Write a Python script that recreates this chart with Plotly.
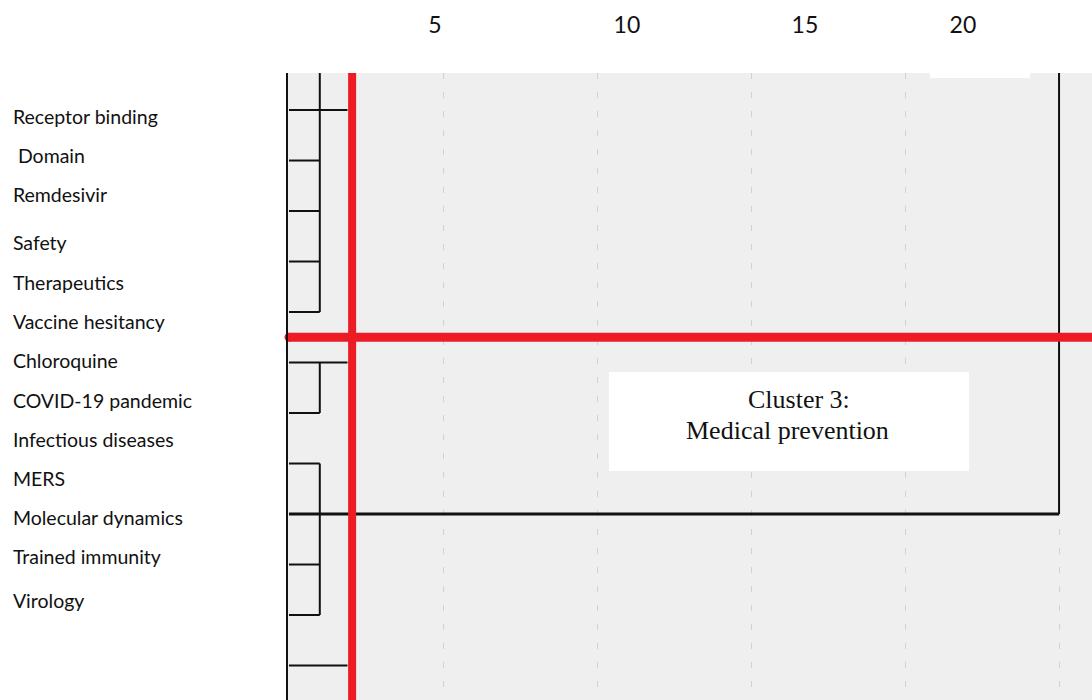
import plotly.graph_objects as go

# ---------------- data ----------------
# dendrogram leaves: row index and the rescaled distance at which each leaf joins
leaf_rows = [0, 1, 2, 3, 4, 5, 6, 7, 8, 9, 10, 11]
leaf_merge_dist = [1.9, 1.0, 1.0, 1.0, 1.0, 1.9, 1.0, 1.0, 25.0, 1.0, 1.0, 1.9]

# vertical joins: distance, first row, last row
join_dist = [1.0, 1.0, 1.0, 25.0]
join_first = [-0.75, 5, 7, -0.75]
join_last = [4, 6, 10, 8]

# cut lines drawn in red
cut_distance = 2.05
cut_row = 4.5

# term labels on the left and their vertical positions (row units)
labels = ["Receptor binding", " Domain", "Remdesivir", "Safety", "Therapeutics",
          "Vaccine hesitancy", "Chloroquine", "COVID-19 pandemic", "Infectious diseases",
          "MERS", "Molecular dynamics", "Trained immunity", "Virology"]
label_rows = [0.18, 0.95, 1.72, 2.67, 3.47, 4.24, 5.01, 5.80, 6.57, 7.35, 8.12, 8.89, 9.76]

# rescaled-distance scale
scale_ticks = ["5", "10", "15", "20"]
scale_tick_pos = [4.74, 10.97, 16.75, 21.88]
grid_vals = [5, 10, 15, 20, 25]

cluster_title = ["Cluster 3:", "Medical prevention"]

# ---------------- figure ----------------
W, H = 1092, 700
x_range = [-0.032, 26.07]
y_range = [11.683, -0.733]
plot_left_px = 288
main_left = plot_left_px / W

fig = go.Figure()

# leaf horizontal links (thin)
hx, hy = [], []
for r, d in zip(leaf_rows, leaf_merge_dist):
    if d < 20:
        hx += [0, d, None]
        hy += [r, r, None]
fig.add_trace(go.Scatter(x=hx, y=hy, mode="lines", line=dict(color="#111111", width=2),
                         hoverinfo="skip", showlegend=False))

# vertical joins
vx, vy = [], []
for d, a, b in zip(join_dist, join_first, join_last):
    vx += [d, d, None]
    vy += [a, b, None]
fig.add_trace(go.Scatter(x=vx, y=vy, mode="lines", line=dict(color="#111111", width=2),
                         hoverinfo="skip", showlegend=False))

# long link (main merge)
lx, ly = [], []
for r, d in zip(leaf_rows, leaf_merge_dist):
    if d >= 20:
        lx += [0, d, None]
        ly += [r, r, None]
fig.add_trace(go.Scatter(x=lx, y=ly, mode="lines", line=dict(color="#111111", width=3),
                         hoverinfo="skip", showlegend=False))

# red cut lines
fig.add_trace(go.Scatter(x=[cut_distance, cut_distance], y=[y_range[1], y_range[0]], mode="lines",
                         line=dict(color="#ED1C24", width=8), hoverinfo="skip", showlegend=False))
fig.add_trace(go.Scatter(x=[0, x_range[1]], y=[cut_row, cut_row], mode="lines",
                         line=dict(color="#ED1C24", width=9), hoverinfo="skip", showlegend=False))
fig.add_trace(go.Scatter(x=[0], y=[cut_row], mode="markers", cliponaxis=False,
                         marker=dict(color="#ED1C24", size=9, line=dict(width=0)),
                         hoverinfo="skip", showlegend=False))

# left labels
fig.add_trace(go.Scatter(x=[13] * len(labels), y=label_rows, mode="text", text=labels,
                         textposition="middle right", xaxis="x2", yaxis="y",
                         textfont=dict(family="Lato", size=19.5, color="#111111"),
                         hoverinfo="skip", showlegend=False))

# background of the plot area
fig.add_shape(type="rect", xref="x domain", yref="y domain", x0=0, x1=1, y0=0, y1=1,
              fillcolor="#EFEFEF", line=dict(width=0), layer="below")
# small white strip at the top edge
fig.add_shape(type="rect", xref="x", yref="y", x0=20.81, x1=24.06, y0=y_range[1], y1=-0.634,
              fillcolor="white", line=dict(width=0), layer="above")
# cluster label box
fig.add_shape(type="rect", xref="x", yref="y", x0=10.39, x1=22.08, y0=5.19, y1=7.15,
              fillcolor="white", line=dict(width=0), layer="above")
fig.add_annotation(x=16.56, y=5.73, xref="x", yref="y", text=cluster_title[0], showarrow=False,
                   font=dict(family="Liberation Serif", size=26, color="#111111"))
fig.add_annotation(x=16.2, y=6.34, xref="x", yref="y", text=cluster_title[1], showarrow=False,
                   font=dict(family="Liberation Serif", size=26, color="#111111"))

fig.update_layout(
    width=W, height=H,
    margin=dict(l=0, r=0, t=73, b=0),
    paper_bgcolor="white", plot_bgcolor="rgba(0,0,0,0)",
    showlegend=False,
    xaxis=dict(domain=[main_left, 1], range=x_range, side="top",
               tickmode="array", tickvals=scale_tick_pos, ticktext=scale_ticks,
               ticks="", showgrid=False, zeroline=False, showline=False,
               ticklabelstandoff=34,
               tickfont=dict(family="Lato", size=23, color="#111111"),
               minor=dict(tickmode="array", tickvals=grid_vals, showgrid=True,
                          gridcolor="#D2D2D2", gridwidth=1, griddash="6px,13px", ticks="")),
    xaxis2=dict(domain=[0, main_left - 0.002], range=[0, plot_left_px], visible=False, anchor="y"),
    yaxis=dict(range=y_range, showticklabels=False, ticks="", showgrid=False, zeroline=False,
               showline=True, linecolor="#111111", linewidth=2, anchor="x"),
)

# remove the default page margin so the figure fills the window exactly
fig.write_html("out.html", config={"displayModeBar": False},
               post_script="document.body.style.margin='0';document.body.style.overflow='hidden';")
